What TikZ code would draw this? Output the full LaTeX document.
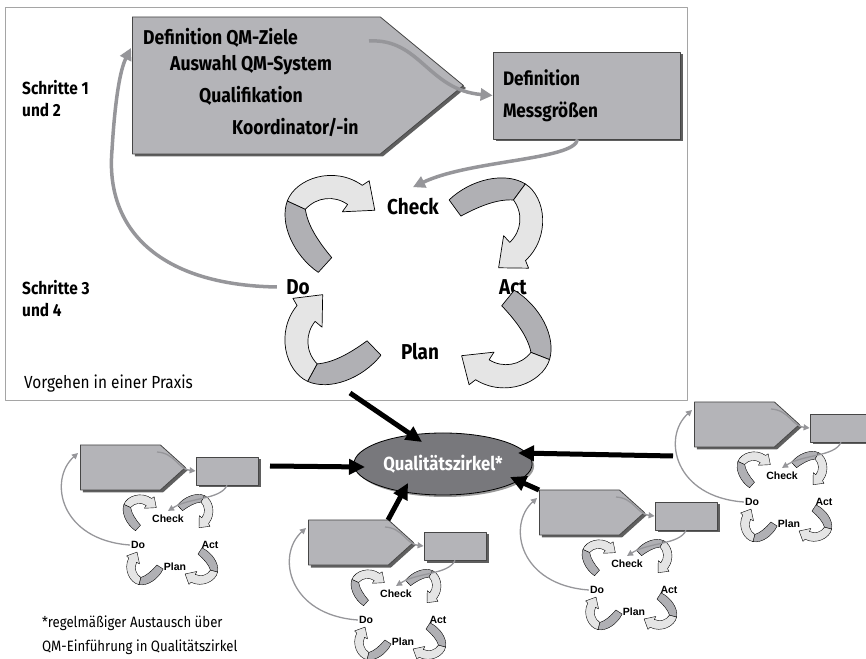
\documentclass[tikz,border=0pt]{standalone}
\usepackage{fontspec}
\setmainfont{Fira Sans}[FakeStretch=0.88]
\newfontfamily\minifont{Liberation Sans}
\usetikzlibrary{arrows.meta,shapes.symbols,shapes.geometric,shadows,calc}

\definecolor{boxgray}{RGB}{180,180,184}
\definecolor{boxline}{RGB}{70,70,70}
\definecolor{shadowgray}{RGB}{95,95,95}
\definecolor{linkgray}{RGB}{150,150,154}
\definecolor{bandgray}{RGB}{176,176,180}
\definecolor{bandlight}{RGB}{229,229,229}
\definecolor{zirkelgray}{RGB}{120,120,124}
\definecolor{framegray}{RGB}{165,165,165}

\tikzset{
  boxshadow/.style={drop shadow={shadow xshift=2.5pt, shadow yshift=-2.5pt, fill=shadowgray, opacity=1}},
  pentbox/.style={signal, signal to=east, draw=boxline, fill=boxgray, line width=.8pt, inner sep=0pt, boxshadow},
  rectbox/.style={rectangle, draw=boxline, fill=boxgray, line width=.8pt, boxshadow},
  band/.style={draw=black, line width=.7pt, line join=round},
  miniturn/.style={scale=.37, band/.append style={line width=.4pt}},
  link/.style={draw=linkgray, line width=3.5pt, -{Triangle[length=12pt,width=12pt]}},
  minilink/.style={draw=linkgray, line width=1.3pt, -{Triangle[length=6pt,width=6pt]}},
  zirkelarrow/.style={line width=5pt, -{Triangle[length=16pt,width=15pt]}},
  goaltext/.style={font=\bfseries\fontsize{20}{22}\selectfont, anchor=west, inner sep=0pt},
  steplabel/.style={font=\bfseries\fontsize{17.5}{22}\selectfont, align=left, anchor=west, inner sep=0pt},
  pdcalabel/.style={font=\bfseries\fontsize{21.5}{24}\selectfont},
  minilabel/.style={font=\minifont\bfseries\fontsize{10.5}{11}\selectfont, inner sep=1pt},
  pics/turn/.style={code={
    \filldraw[band, fill=bandgray] (-10,0) -- (10,0) .. controls (13,22) and (18,40) .. (28,52)
      -- (22,71) .. controls (0,62) and (-14,30) .. cycle;
    \filldraw[band, fill=bandlight] (22,71) .. controls (45,80) and (80,60) .. (84,26) -- (92,24)
      -- (74,0) -- (51,23) -- (60,24) .. controls (58,40) and (45,52) .. (28,52) -- cycle;
  }},
  pics/minicopy/.style={code={
    \node[pentbox, minimum width=105pt, minimum height=45pt, signal pointer angle=84, anchor=west] (-pent) at (0,-22.5) {};
    \node[rectbox, minimum width=62pt, minimum height=28pt] (-box) at (147,-26) {};
    \coordinate (-nw) at (0,0);
    \coordinate (-ne) at (80,0);
    \coordinate (-flow) at (77,-7);
    \coordinate (-back) at (-2,-8);
    \node[minilabel] (-check) at (88,-74) {Check};
    \node[minilabel] (-do) at (58,-100) {Do};
    \node[minilabel] (-act) at (130,-100) {Act};
    \node[minilabel] (-plan) at (95,-122) {Plan};
    \pic[miniturn, rotate=48] at (58,-83) {turn};
    \pic[miniturn, rotate=-46] at (100,-63) {turn};
    \pic[miniturn, rotate=-123] at (120,-106) {turn};
    \pic[miniturn, rotate=147] at (80,-122) {turn};
    \draw[minilink] (-flow) .. controls (95,-8) and (98,-24) .. (-box.west);
    \draw[minilink] (-box.south) .. controls (140,-55) and (110,-52) .. ([yshift=3pt]-check.north);
    \draw[minilink] (-do.west) .. controls (-20,-95) and (-32,-35) .. (-back);
  }}
}

\begin{document}
\begin{tikzpicture}[x=1pt, y=1pt, line join=round]
  \useasboundingbox (0,0) rectangle (866,658);

  % Vorgehen in einer Praxis
  \node[draw=framegray, line width=1pt, minimum width=682pt, minimum height=393pt, inner sep=0pt, anchor=north west] (praxis) at (5,651) {};
  \node[pentbox, minimum width=331pt, minimum height=137pt, signal pointer angle=79, anchor=west] (goals) at (132,572.5) {};
  \node[goaltext] (g1) at (143,620) {Definition QM-Ziele};
  \node[goaltext] (g2) at (170,593) {Auswahl QM-System};
  \node[goaltext] (g3) at (199,562) {Qualifikation};
  \node[goaltext] (g4) at (232,531) {Koordinator/-in};
  \node[rectbox, minimum width=187pt, minimum height=87pt, text width=167pt, inner sep=10pt, align=left,
        font=\bfseries\fontsize{19.5}{32}\selectfont] (box) at (586.5,562.5) {Definition\\Messgrößen};

  \node[steplabel] (s12) at (22,559) {Schritte 1\\und 2};
  \node[steplabel] (s34) at (22,359.5) {Schritte 3\\und 4};
  \node[anchor=west, inner sep=0pt, font=\fontsize{17.5}{18}\selectfont] (praxislabel) at (24,274) {Vorgehen in einer Praxis};

  % PDCA
  \node[pdcalabel] (check) at (413,451) {Check};
  \node[pdcalabel] (do) at (298,371) {Do};
  \node[pdcalabel] (act) at (513,371) {Act};
  \node[pdcalabel] (plan) at (420,306) {Plan};
  \pic[rotate=47.7] at (325,393) {turn};
  \pic[rotate=-53.9] at (455,450) {turn};
  \pic[rotate=-128.8] at (508,360) {turn};
  \pic[rotate=133.9] at (374,310) {turn};

  \coordinate (flow) at (369,617);
  \coordinate (back) at (131,610);
  \draw[link] (flow) .. controls (420,620) and (428,568) .. (box.west);
  \draw[link] ([xshift=-9pt]box.south) .. controls (575,498) and (470,498) .. ([yshift=8pt]check.north);
  \draw[link] ([xshift=-6pt]do.west) .. controls (160,373) and (105,428) .. (112,508)
    .. controls (115,558) and (120,588) .. (back);

  % weitere Praxen
  \pic (L) at (80,213) {minicopy};
  \pic (B) at (308,138) {minicopy};
  \pic (M) at (539,168) {minicopy};
  \pic (R) at (694,256) {minicopy};

  % Qualitaetszirkel
  \node[ellipse, draw=black, line width=.8pt, fill=zirkelgray, minimum width=164pt, minimum height=62pt,
        drop shadow={shadow xshift=2pt, shadow yshift=-2pt, fill=black!40, opacity=1},
        text=white, font=\bfseries\fontsize{19}{24}\selectfont] (qz) at (443,194) {Qualitätszirkel*};
  \coordinate (praxisout) at (350,265);
  \coordinate (leftout) at (270,192);
  \coordinate (rightout) at (673,202);
  \draw[zirkelarrow] (praxisout) -- ($(qz)+(-21,22)$);
  \draw[zirkelarrow] (leftout) -- ($(qz)+(-78,-3)$);
  \draw[zirkelarrow] (B-ne) -- ($(qz)+(-35,-19)$);
  \draw[zirkelarrow] (M-nw) -- ($(qz)+(67,-13)$);
  \draw[zirkelarrow] (rightout) -- ($(qz)+(75,11)$);

  \node[anchor=west, align=left, inner sep=0pt, font=\fontsize{15}{24}\selectfont] (note) at (42,23)
    {*regelmäßiger Austausch über\\QM-Einführung in Qualitätszirkel};
\end{tikzpicture}
\end{document}
